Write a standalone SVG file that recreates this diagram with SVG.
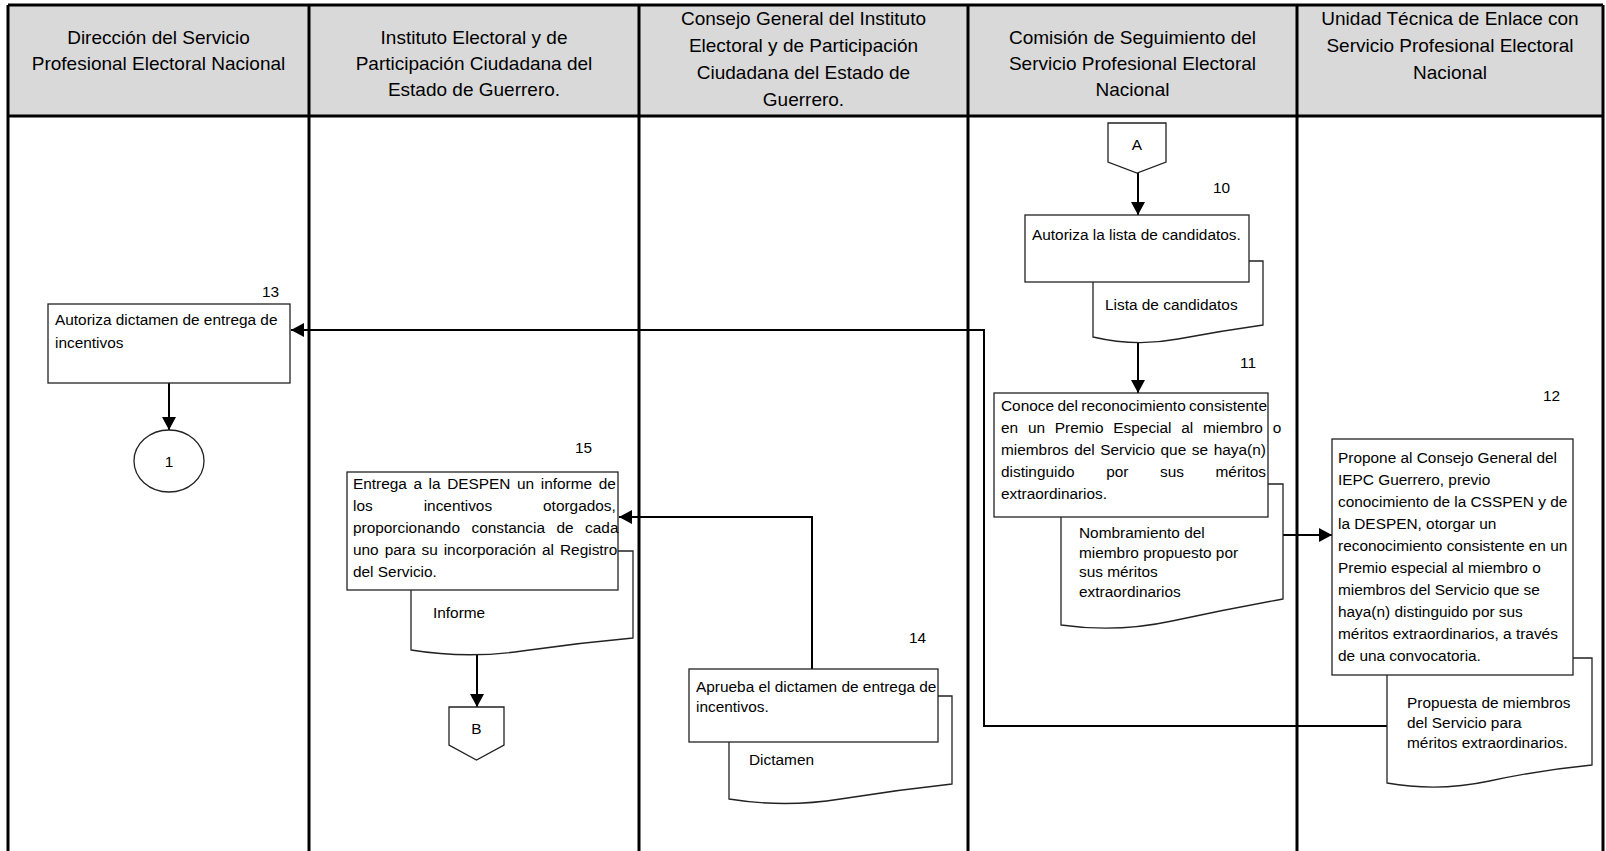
<svg xmlns="http://www.w3.org/2000/svg" width="1606" height="851" viewBox="0 0 1606 851">
<style>
.hdr{font-family:"Liberation Sans",Arial,sans-serif;font-size:19px;fill:#000;text-anchor:middle}
.t{font-family:"Liberation Sans",Arial,sans-serif;font-size:15.4px;fill:#000}
.c{text-anchor:middle}
.box{fill:#fff;stroke:#222;stroke-width:1.3}
.frame{stroke:#000;stroke-width:3;fill:none}
.conn{stroke:#000;stroke-width:2;fill:none}
</style>
<defs>
<marker id="ah" markerUnits="userSpaceOnUse" markerWidth="14" markerHeight="14" refX="13" refY="7" orient="auto">
<path d="M0,0 L13,7 L0,14 z" fill="#000"/>
</marker>
</defs>
<rect width="1606" height="851" fill="#fff"/>
<g id="lanes">
<rect x="8" y="5" width="1595" height="111" fill="#d9d9d9"/>
<path class="frame" d="M8,5 H1603 M8,116 H1603 M8,5 V851 M309,5 V851 M639,5 V851 M968,5 V851 M1297,5 V851 M1603,5 V851"/>
<text class="hdr" x="158.5" y="44">Dirección del Servicio</text>
<text class="hdr" x="158.5" y="70">Profesional Electoral Nacional</text>
<text class="hdr" x="474" y="44">Instituto Electoral y de</text>
<text class="hdr" x="474" y="70">Participación Ciudadana del</text>
<text class="hdr" x="474" y="96">Estado de Guerrero.</text>
<text class="hdr" x="803.5" y="25">Consejo General del Instituto</text>
<text class="hdr" x="803.5" y="52">Electoral y de Participación</text>
<text class="hdr" x="803.5" y="79">Ciudadana del Estado de</text>
<text class="hdr" x="803.5" y="106">Guerrero.</text>
<text class="hdr" x="1132.5" y="44">Comisión de Seguimiento del</text>
<text class="hdr" x="1132.5" y="70">Servicio Profesional Electoral</text>
<text class="hdr" x="1132.5" y="96">Nacional</text>
<text class="hdr" x="1450" y="25">Unidad Técnica de Enlace con</text>
<text class="hdr" x="1450" y="52">Servicio Profesional Electoral</text>
<text class="hdr" x="1450" y="79">Nacional</text>
</g>
<g id="connectors">
<path class="conn" d="M1138,173 V215" marker-end="url(#ah)"/>
<path class="conn" d="M1138,340 V393" marker-end="url(#ah)"/>
<path class="conn" d="M1283,535 H1332" marker-end="url(#ah)"/>
<path class="conn" d="M1387,726 H984 V330 H291" marker-end="url(#ah)"/>
<path class="conn" d="M812,669 V517 H619" marker-end="url(#ah)"/>
<path class="conn" d="M477,655 V707" marker-end="url(#ah)"/>
<path class="conn" d="M169,383 V430" marker-end="url(#ah)"/>
</g>
<g id="nodeA">
<path class="box" d="M1108,123 H1166 V162 L1137,173 L1108,162 Z"/>
<text class="t c" x="1137" y="150">A</text>
</g>
<g id="node10">
<text class="t" x="1213" y="193">10</text>
<path class="box" d="M1093,337 V261 H1263 V325 Q1220.5,331 1178,339 Q1135.5,347 1093,337 Z"/>
<rect class="box" x="1025" y="215" width="224" height="67"/>
<text class="t" x="1032" y="240">Autoriza la lista de candidatos.</text>
<text class="t" x="1105" y="310">Lista de candidatos</text>
</g>
<g id="node11">
<text class="t" x="1240" y="368">11</text>
<path class="box" d="M1061,625 V484 H1283 V599 Q1227.5,609 1172,621 Q1116.5,633 1061,625 Z"/>
<rect class="box" x="994" y="393" width="274" height="124"/>
<text class="t" x="1001" y="411" style="word-spacing:-0.9px">Conoce del reconocimiento consistente</text>
<text class="t" x="1001" y="433" style="word-spacing:5.5px">en un Premio Especial al miembro o</text>
<text class="t" x="1001" y="455" style="word-spacing:1.3px">miembros del Servicio que se haya(n)</text>
<text class="t" x="1001" y="477" style="word-spacing:27.3px">distinguido por sus méritos</text>
<text class="t" x="1001" y="499">extraordinarios.</text>
<text class="t" x="1079" y="538">Nombramiento del</text>
<text class="t" x="1079" y="557.5">miembro propuesto por</text>
<text class="t" x="1079" y="577">sus méritos</text>
<text class="t" x="1079" y="596.5">extraordinarios</text>
</g>
<g id="node12">
<text class="t" x="1543" y="401">12</text>
<path class="box" d="M1387,783 V658 H1592 V765 Q1540.75,770 1489.5,781 Q1438.25,792 1387,783 Z"/>
<rect class="box" x="1332" y="439" width="241" height="236"/>
<text class="t" x="1338" y="463">Propone al Consejo General del</text>
<text class="t" x="1338" y="485">IEPC Guerrero, previo</text>
<text class="t" x="1338" y="507">conocimiento de la CSSPEN y de</text>
<text class="t" x="1338" y="529">la DESPEN, otorgar un</text>
<text class="t" x="1338" y="551">reconocimiento consistente en un</text>
<text class="t" x="1338" y="573">Premio especial al miembro o</text>
<text class="t" x="1338" y="595">miembros del Servicio que se</text>
<text class="t" x="1338" y="617">haya(n) distinguido por sus</text>
<text class="t" x="1338" y="639">méritos extraordinarios, a través</text>
<text class="t" x="1338" y="661">de una convocatoria.</text>
<text class="t" x="1407" y="708">Propuesta de miembros</text>
<text class="t" x="1407" y="728">del Servicio para</text>
<text class="t" x="1407" y="748">méritos extraordinarios.</text>
</g>
<g id="node13">
<text class="t" x="262" y="297">13</text>
<rect class="box" x="48" y="304" width="242" height="79"/>
<text class="t" x="55" y="325">Autoriza dictamen de entrega de</text>
<text class="t" x="55" y="348">incentivos</text>
</g>
<g id="node1">
<ellipse class="box" cx="169" cy="461" rx="35" ry="31"/>
<text class="t c" x="169" y="467">1</text>
</g>
<g id="node14">
<text class="t" x="909" y="643">14</text>
<path class="box" d="M729,799 V696 H952 V784 Q896.25,790 840.5,799 Q784.75,808 729,799 Z"/>
<rect class="box" x="689" y="669" width="249" height="73"/>
<text class="t" x="696" y="692">Aprueba el dictamen de entrega de</text>
<text class="t" x="696" y="712">incentivos.</text>
<text class="t" x="749" y="765">Dictamen</text>
</g>
<g id="node15">
<text class="t" x="575" y="453">15</text>
<path class="box" d="M411,650 V551 H633 V638 Q577.5,643 522,651 Q466.5,659 411,650 Z"/>
<rect class="box" x="347" y="472" width="271" height="118"/>
<text class="t" x="353" y="489" style="word-spacing:2.3px">Entrega a la DESPEN un informe de</text>
<text class="t" x="353" y="511" style="word-spacing:46.7px">los incentivos otorgados,</text>
<text class="t" x="353" y="533" style="word-spacing:7.2px">proporcionando constancia de cada</text>
<text class="t" x="353" y="555" style="word-spacing:1.7px">uno para su incorporación al Registro</text>
<text class="t" x="353" y="577">del Servicio.</text>
<text class="t" x="433" y="618">Informe</text>
</g>
<g id="nodeB">
<path class="box" d="M449,707 H504 V745 L476.5,760 L449,745 Z"/>
<text class="t c" x="476.5" y="734">B</text>
</g>
</svg>
